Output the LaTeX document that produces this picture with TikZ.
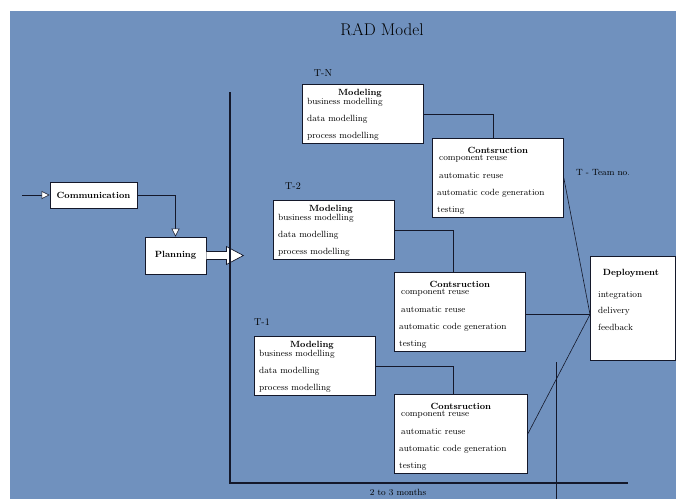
\documentclass[tikz,border=0pt]{standalone}
\usepackage{xcolor}
\usepackage{tikz}
\usetikzlibrary{
  arrows.meta,
  shapes,
  positioning,
  calc
}
\definecolor{radBlue}{HTML}{7091BE}
\definecolor{radLine}{HTML}{14182A}

\tikzset{
  phase/.style={draw=radLine, fill=white, line width=0.8pt, inner sep=0pt},
  txt/.style={font=\fontsize{9}{10}\selectfont, inner sep=0pt, anchor=west},
  ttl/.style={font=\fontsize{9}{10}\selectfont\bfseries, inner sep=0pt},
  link/.style={draw=radLine, line width=0.6pt},
  hollow/.style={-{Triangle[fill=white, length=8pt, width=8pt]}}
}

\begin{document}
\begin{tikzpicture}[x=1pt, y=-1pt]
  \useasboundingbox (0,0) rectangle (676,499);
  \fill[white] (0,0) rectangle (676,499);
  \fill[radBlue] (10,11) rectangle (676,499);
  \node[font=\fontsize{17}{19}\selectfont] (title) at (382,30) {RAD Model};
  % communication and planning
  \node[phase, minimum width=87, minimum height=26, font=\fontsize{9}{10}\selectfont\bfseries] (comm) at (93.5,195) {Communication};
  \node[phase, minimum width=61, minimum height=37, font=\fontsize{9}{10}\selectfont\bfseries] (plan) at (175.5,255.5) {Planning};
  \coordinate (start) at (22,195);
  \draw[link, hollow] (start) -- (comm.west);
  \draw[link, hollow] (comm.east) -| (plan.north);
  % push arrow
  \draw[fill=white, draw=radLine, line width=0.7pt] (plan.east) ++(0,-4) -- ++(20,0) -- ++(0,-5) -- ++(17,9) -- ++(-17,9) -- ++(0,-5) -- ++(-20,0);
  % time axis
  \coordinate (axtop) at (230,92);
  \coordinate (origin) at (230,483);
  \coordinate (axend) at (628,483);
  \draw[line width=2pt, draw=radLine] (axtop) -- (origin) -- (axend);
  \node[font=\fontsize{9}{10}\selectfont] (months) at (398,492.5) {2 to 3 months};
  \coordinate (mark) at (556,362);
  \draw[link] (mark) -- (556,499);
  % modeling
  \foreach \name/\lab/\x/\y/\lx/\ly in {mN/T-N/302/84/323/73, m2/T-2/273/200/293/186, m1/T-1/254/336/262/322} {
    \node[phase, minimum width=121, minimum height=59, anchor=north west] (\name) at (\x,\y) {};
    \node[font=\fontsize{10}{11}\selectfont] (\name-lab) at (\lx,\ly) {\lab};
    \node[ttl] (\name-ttl) at ($(\name.north)+(-3,9)$) {Modeling};
    \node[txt] (\name-a) at ($(\name.north west)+(5,18)$) {business modelling};
    \node[txt] (\name-b) at ($(\name.north west)+(5,35)$) {data modelling};
    \node[txt] (\name-c) at ($(\name.north west)+(5,52)$) {process modelling};
  }
  % construction
  \foreach \name/\x/\y/\w in {cN/432/138/131, c2/394/272/131, c1/394/394/133} {
    \node[phase, minimum width=\w, minimum height=79, anchor=north west] (\name) at (\x,\y) {};
    \node[ttl] (\name-ttl) at ($(\name.north)+(0,12)$) {Contsruction};
    \node[txt] (\name-a) at ($(\name.north west)+(7,21)$) {component reuse};
    \node[txt] (\name-b) at ($(\name.north west)+(7,38)$) {automatic reuse};
    \node[txt] (\name-c) at ($(\name.north west)+(5,55)$) {automatic code generation};
    \node[txt] (\name-d) at ($(\name.north west)+(5,72)$) {testing};
  }
  \foreach \m/\c/\dx in {mN/cN/-5, m2/c2/-7, m1/c1/-8}
    \draw[link] (\m.east) -| ([xshift=\dx pt]\c.north);
  % deployment
  \node[phase, minimum width=85, minimum height=104, anchor=north west] (dep) at (590,256) {};
  \node[ttl] (dep-ttl) at ($(dep.north)+(-2,17)$) {Deployment};
  \node[txt] (dep-a) at ($(dep.north west)+(8,39)$) {integration};
  \node[txt] (dep-b) at ($(dep.north west)+(8,55)$) {delivery};
  \node[txt] (dep-c) at ($(dep.north west)+(8,71)$) {feedback};
  \coordinate (join) at ($(dep.west)+(0,6)$);
  \draw[link] (cN.east) -- (join);
  \draw[link] (c2.east |- join) -- (join);
  \draw[link] (c1.east) -- (join);
  \node[txt] (key) at (576,172) {T - Team no.};
\end{tikzpicture}
\end{document}
